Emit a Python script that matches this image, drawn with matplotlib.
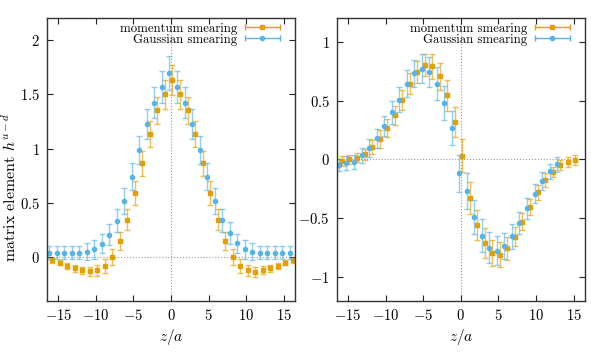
import numpy as np
import matplotlib
matplotlib.use('Agg')
import matplotlib.pyplot as plt
from matplotlib.legend_handler import HandlerErrorbar
from matplotlib.ticker import FuncFormatter

# left panel: z/a = -16 .. 16
z_left = np.arange(-16, 17)
mom_left = [-0.030, -0.052, -0.079, -0.103, -0.122, -0.131, -0.122, -0.082, 0.003, 0.147, 0.345,
            0.590, 0.864, 1.136, 1.350, 1.500, 1.634, 1.500, 1.350, 1.136, 0.864, 0.590,
            0.345, 0.147, 0.003, -0.082, -0.122, -0.134, -0.119, -0.103, -0.079, -0.052, -0.030]
mom_left_err = [0.026, 0.023, 0.029, 0.030, 0.035, 0.044, 0.049, 0.066, 0.073, 0.085, 0.099,
                0.107, 0.117, 0.120, 0.127, 0.133, 0.137, 0.133, 0.127, 0.120, 0.117, 0.107,
                0.099, 0.085, 0.073, 0.066, 0.049, 0.044, 0.035, 0.030, 0.029, 0.023, 0.026]
gau_left = [0.043, 0.043, 0.043, 0.043, 0.043, 0.052, 0.073, 0.125, 0.208, 0.336, 0.516,
            0.742, 0.986, 1.224, 1.423, 1.563, 1.694, 1.563, 1.423, 1.224, 0.986, 0.742,
            0.516, 0.339, 0.223, 0.128, 0.073, 0.052, 0.043, 0.043, 0.043, 0.043, 0.043]
gau_left_err = [0.060, 0.060, 0.060, 0.060, 0.060, 0.079, 0.087, 0.089, 0.098, 0.107, 0.119,
                0.125, 0.128, 0.139, 0.143, 0.146, 0.154, 0.146, 0.143, 0.139, 0.128, 0.125,
                0.119, 0.107, 0.098, 0.089, 0.087, 0.079, 0.060, 0.060, 0.060, 0.060, 0.060]

# right panel: momentum -16 .. 15, Gaussian -16 .. 13
z_right_mom = np.arange(-16, 16)
mom_right = [-0.012, 0.000, 0.014, 0.042, 0.104, 0.175, 0.268, 0.373, 0.503, 0.644, 0.740,
             0.799, 0.791, 0.706, 0.545, 0.319, 0.031, -0.328, -0.554, -0.709, -0.797, -0.808,
             -0.754, -0.656, -0.528, -0.404, -0.280, -0.175, -0.110, -0.051, -0.023, -0.006]
mom_right_err = [0.040, 0.038, 0.040, 0.050, 0.060, 0.076, 0.075, 0.083, 0.083, 0.088, 0.095,
                 0.093, 0.106, 0.116, 0.130, 0.130, 0.140, 0.136, 0.127, 0.126, 0.110, 0.106,
                 0.097, 0.083, 0.072, 0.068, 0.066, 0.056, 0.042, 0.042, 0.040, 0.040]
z_right_gau = np.arange(-16, 14)
gau_right = [-0.048, -0.034, -0.020, 0.036, 0.093, 0.178, 0.282, 0.401, 0.508, 0.644, 0.730,
             0.771, 0.742, 0.643, 0.480, 0.266, -0.119, -0.269, -0.486, -0.647, -0.749, -0.777,
             -0.737, -0.653, -0.540, -0.415, -0.291, -0.184, -0.102, -0.040]
gau_right_err = [0.050, 0.060, 0.060, 0.064, 0.076, 0.078, 0.085, 0.097, 0.106, 0.113, 0.116,
                 0.121, 0.127, 0.141, 0.144, 0.147, 0.158, 0.151, 0.144, 0.138, 0.133, 0.124,
                 0.110, 0.106, 0.096, 0.090, 0.083, 0.075, 0.066, 0.064]

orange = '#E69F00'
blue = '#56B4E9'
shift = 0.2

plt.rcParams['font.family'] = 'cmr10'
plt.rcParams['mathtext.fontset'] = 'cm'
plt.rcParams['axes.formatter.use_mathtext'] = True
plt.rcParams['font.size'] = 10

fig = plt.figure(figsize=(5.91, 3.55), dpi=100)
ax1 = fig.add_axes([0.0795, 0.153, 0.4196, 0.796])
ax2 = fig.add_axes([0.5697, 0.153, 0.4200, 0.796])

plain = FuncFormatter(lambda v, pos: f'${v:g}$')


def draw_series(ax, z, y, err, color, marker, ms):
    ax.errorbar(np.asarray(z), y, yerr=err, fmt='none', ecolor=color, elinewidth=1.0,
                capsize=2.2, capthick=1.0, alpha=0.65)
    ax.plot(np.asarray(z), y, ls='none', marker=marker, ms=ms, color=color, mec=color)


def style_axes(ax, ylim, yticks):
    ax.set_xlim(-16.5, 16.5)
    ax.set_ylim(*ylim)
    ax.set_xticks([-15, -10, -5, 0, 5, 10, 15])
    ax.set_yticks(yticks)
    ax.xaxis.set_major_formatter(plain)
    ax.yaxis.set_major_formatter(plain)
    ax.axhline(0, color='#999999', ls=':', lw=0.8, zorder=0)
    ax.axvline(0, color='#999999', ls=':', lw=0.8, zorder=0)
    ax.tick_params(direction='in', top=True, right=True, length=4, width=0.8, pad=5,
                   colors='#222222', labelcolor='black', labelsize=10.5)
    for s in ax.spines.values():
        s.set_linewidth(1.0)
        s.set_color('#333333')
    ax.set_xlabel('$z/a$', labelpad=3, fontsize=11)

    # gnuplot-style legend keys: text first, then horizontal bar with point
    h1 = ax.errorbar([np.nan], [np.nan], xerr=[1], fmt='s', ms=3.5, color=orange,
                     ecolor=orange, elinewidth=1.0, capsize=2.2, label='momentum smearing')
    h2 = ax.errorbar([np.nan], [np.nan], xerr=[1], fmt='o', ms=3, color=blue,
                     ecolor=blue, elinewidth=1.0, capsize=2.2, label='Gaussian smearing')
    ax.legend(handles=[h1, h2], loc='upper right', bbox_to_anchor=(0.94, 0.984),
              frameon=False, markerfirst=False,
              handlelength=2.8, handletextpad=0.55, labelspacing=-0.1,
              borderaxespad=0.0, borderpad=0.0, fontsize=9.2,
              handler_map={type(h1): HandlerErrorbar(xerr_size=1.37)})


draw_series(ax1, z_left + shift, mom_left, mom_left_err, orange, 's', 3.5)
draw_series(ax1, z_left - shift, gau_left, gau_left_err, blue, 'o', 3)
style_axes(ax1, (-0.4, 2.2), [0, 0.5, 1, 1.5, 2])
ax1.set_ylabel('matrix element $h^{u-d}$', fontsize=11.5)
ax1.yaxis.set_label_coords(-0.113, 0.40)

draw_series(ax2, z_right_mom + shift, mom_right, mom_right_err, orange, 's', 3.5)
draw_series(ax2, z_right_gau - shift, gau_right, gau_right_err, blue, 'o', 3)
style_axes(ax2, (-1.2, 1.2), [-1, -0.5, 0, 0.5, 1])

fig.savefig('out.png', dpi=100)
